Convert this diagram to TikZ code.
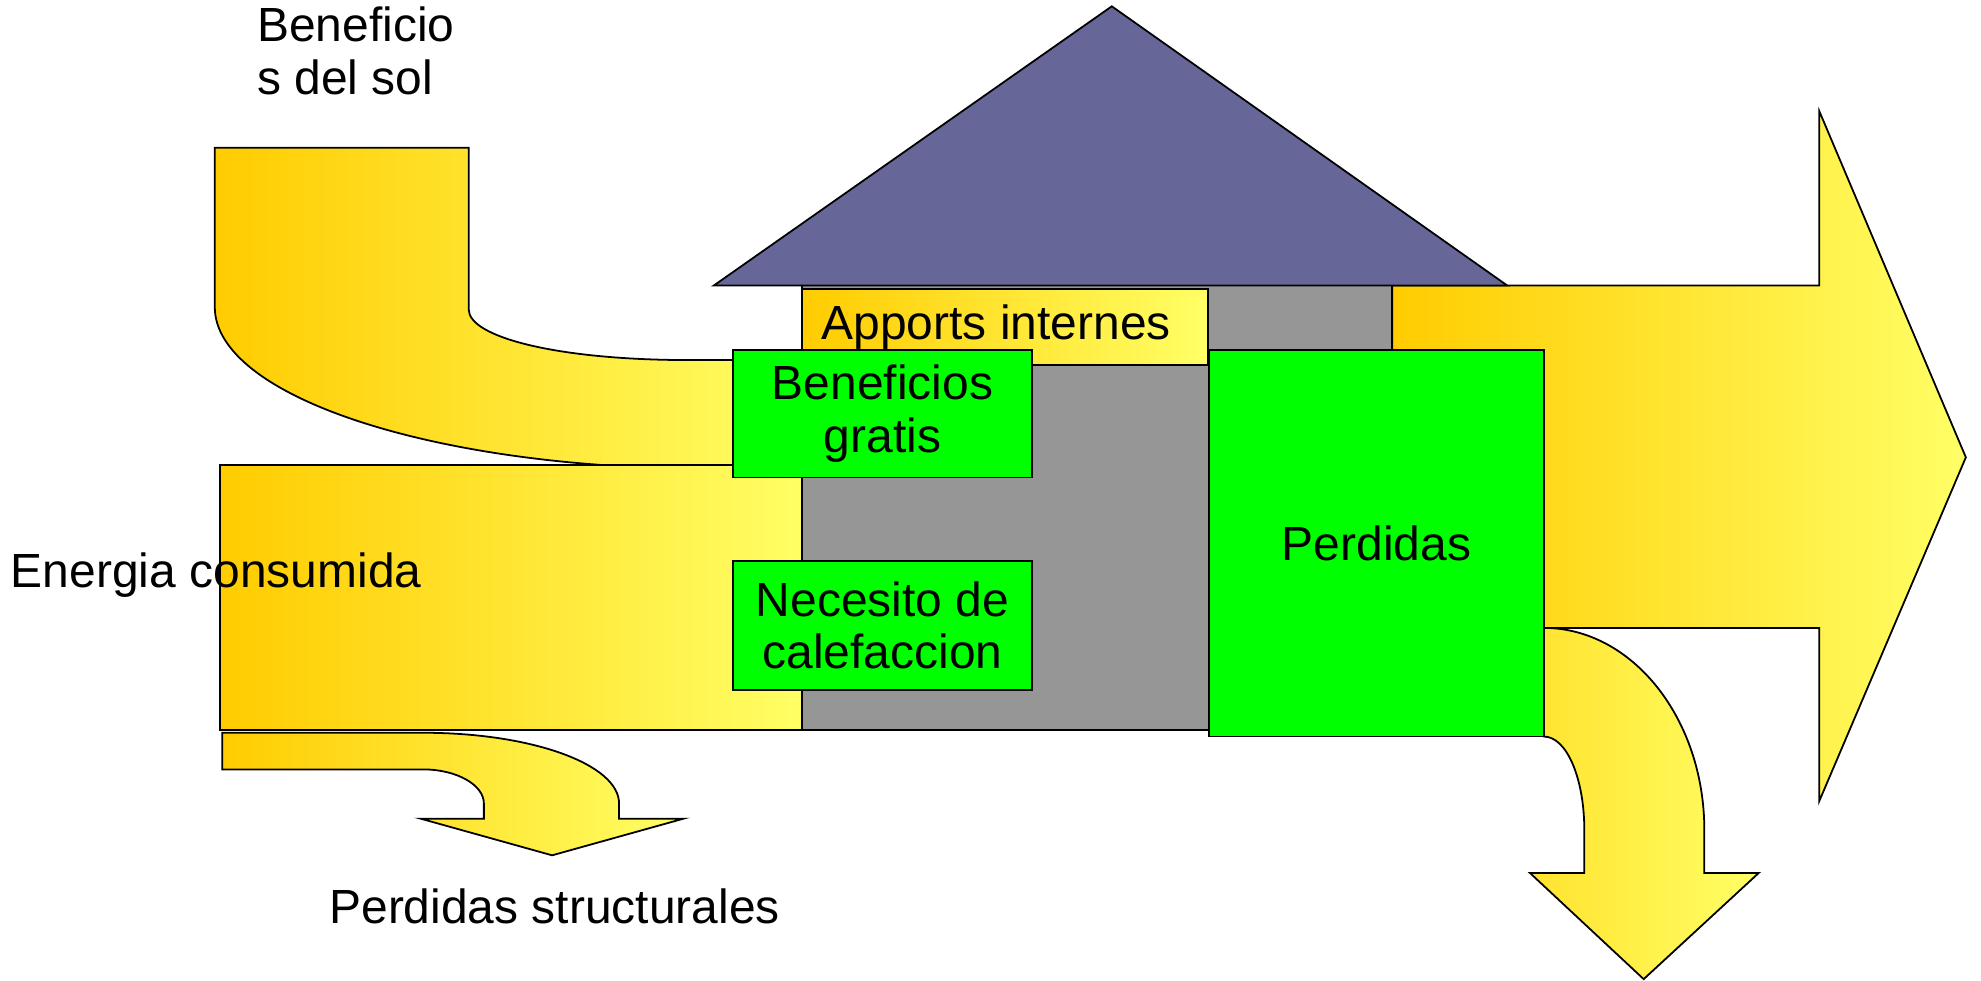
\documentclass[tikz,border=0pt]{standalone}
\usepackage{fontspec}
\setmainfont{Liberation Sans}
\definecolor{gold}{RGB}{255,204,0}
\definecolor{lightyel}{RGB}{255,255,102}
\definecolor{roofc}{RGB}{102,102,153}
\definecolor{wallc}{RGB}{150,150,150}
\definecolor{grn}{RGB}{0,255,0}
\begin{document}
\begin{tikzpicture}[x=0.02cm,y=-0.02cm,line width=0.8pt,
  flow/.style={draw=black,left color=gold,right color=lightyel},
  greenbox/.style={draw=black,fill=grn,inner sep=0pt,align=center,font=\fontsize{21.6pt}{23.8pt}\selectfont},
  flowbox/.style={draw=black,left color=gold,right color=lightyel,inner sep=0pt,align=center,font=\fontsize{21.6pt}{23.8pt}\selectfont},
  lbl/.style={inner sep=0pt,font=\fontsize{21.6pt}{23.8pt}\selectfont}]
\useasboundingbox (0,0) rectangle (1568,776);
% sun flow
\draw[flow] (170,117) -- (371,117) -- (371,245)
  .. controls (371,267) and (442,285) .. (545,285) -- (637,285) -- (637,371) -- (560,371)
  .. controls (345,371) and (170,314) .. (170,243) -- cycle;
% energia consumida
\draw[flow] (174,368) rectangle (637,578);
% perdidas structurales
\draw[flow] (176,580) -- (335,580) .. controls (421,580) and (490,605) .. (490,636)
  -- (490,648) -- (541,648) -- (437,677) -- (333,648) -- (383,648) -- (383,636)
  .. controls (383,621) and (361,609) .. (335,609) -- (176,609) -- cycle;
% house body
\draw[fill=wallc] (635,226) rectangle (1102,578);
% big right arrow
\draw[flow] (1102,226) -- (1440,226) -- (1440,88) -- (1556,362) -- (1440,634) -- (1440,497) -- (1102,497) -- cycle;
% down arrow
\draw[draw=black,left color=gold!55!lightyel,right color=lightyel] (1222,497) .. controls (1292,497) and (1349,569) .. (1349,657) -- (1349,691)
  -- (1392,691) -- (1301,775) -- (1211,691) -- (1254,691) -- (1254,657)
  .. controls (1254,616) and (1240,583) .. (1222,583) -- cycle;
% roof
\draw[fill=roofc] (565,226) -- (880,5) -- (1193,226) -- cycle;
% boxes
\node[flowbox,minimum width=6.42cm,minimum height=1.2cm] (apports) at (795.5,259) {Apports internes\hspace*{0.28cm}};
\node[greenbox,minimum width=4.74cm,minimum height=2.02cm] (gratis) at (698.5,327.5) {Beneficios\\gratis};
\node[greenbox,minimum width=4.74cm,minimum height=2.04cm] (necesito) at (698.5,495) {Necesito de\\calefaccion};
\node[greenbox,minimum width=5.3cm,minimum height=6.12cm] (perdidas) at (1089.5,430) {Perdidas};
% labels
\node[lbl,anchor=west,align=left] (sol) at (203,40.5) {Beneficio\\s del sol};
\node[lbl,anchor=base west] (energia) at (8,465) {Energia consumida};
\node[lbl,anchor=base west] (estruct) at (260,731) {Perdidas structurales};
\end{tikzpicture}
\end{document}
